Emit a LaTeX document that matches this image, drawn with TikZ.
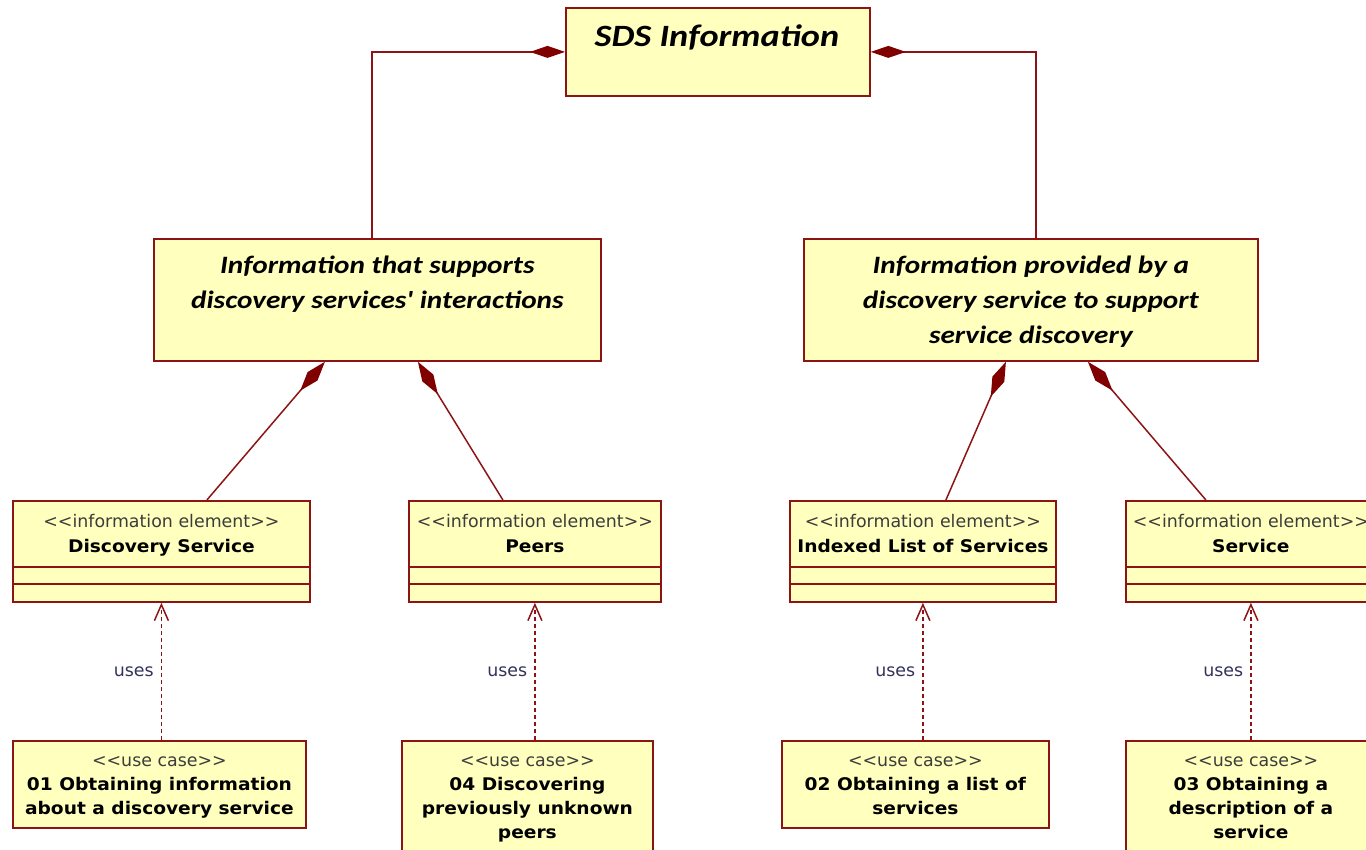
\documentclass[tikz,border=0pt]{standalone}
\usepackage{fontspec}
\newfontfamily\umlfont{DejaVu Sans}[BoldFeatures={FakeStretch=1.07}]
\newfontfamily\titlefont{Carlito}[FakeStretch=1.17]
\usetikzlibrary{arrows.meta,calc}
\definecolor{umlfill}{RGB}{255,255,190}
\definecolor{umlline}{RGB}{140,20,20}
\definecolor{umldia}{RGB}{128,0,0}
\definecolor{stereo}{RGB}{60,60,60}
\definecolor{usestext}{RGB}{50,50,90}
\begin{document}
\begin{tikzpicture}[x=1pt,y=-1pt,
  box/.style={draw=umlline, fill=umlfill, line width=1.8pt, inner sep=0pt, anchor=north west},
  iebox/.style={box, minimum height=101,
    path picture={\draw[umlline, line width=1.6pt]
      ([yshift=35]path picture bounding box.south west) -- ([yshift=35]path picture bounding box.south east)
      ([yshift=18]path picture bounding box.south west) -- ([yshift=18]path picture bounding box.south east);}},
  titletxt/.style={font=\titlefont\bfseries\itshape\fontsize{31}{38}\selectfont, inner sep=0pt, anchor=base},
  midtxt/.style={font=\titlefont\bfseries\itshape\fontsize{25}{35}\selectfont, inner sep=0pt, anchor=north, align=center},
  ietxt/.style={font=\umlfont\fontsize{17.4}{25}\selectfont, inner sep=0pt, anchor=north, align=center},
  uctxt/.style={font=\umlfont\fontsize{17.4}{24}\selectfont, inner sep=0pt, anchor=north, align=center},
  comp/.style={draw=umlline, line width=1.5pt, {Diamond[length=35pt,width=12pt,color=umldia,fill=umldia]}-},
  compd/.style={draw=umlline, line width=1.5pt, {Diamond[length=38pt,width=13pt,color=umldia,fill=umldia]}-},
  uses/.style={draw=umlline, line width=1.5pt, dash pattern=on 4pt off 3pt, -{Straight Barb[length=16pt,width=14pt]}},
  useslbl/.style={font=\umlfont\fontsize{17.4}{20}\selectfont, text=usestext, inner sep=0pt, anchor=east, xshift=-7pt}
]
\useasboundingbox (0,0) rectangle (1366,850);
\clip (0,0) rectangle (1366,850);
% top box
\node[box, minimum width=304, minimum height=88] (sds) at (565,7) {};
\node[titletxt] (sdst) at (717,47) {SDS Information};
% middle boxes
\node[box, minimum width=447, minimum height=122] (mid1) at (153,238) {};
\node[midtxt] (mid1t) at ([yshift=-10.5]mid1.north) {\strut Information that supports\\discovery services' interactions};
\node[box, minimum width=454, minimum height=122] (mid2) at (803,238) {};
\node[midtxt] (mid2t) at ([yshift=-10.5]mid2.north) {\strut Information provided by a\\discovery service to support\\service discovery};
% information elements
\node[iebox, minimum width=297] (ie1) at (12,500) {};
\node[iebox, minimum width=252] (ie2) at (408,500) {};
\node[iebox, minimum width=266] (ie3) at (789,500) {};
\node[iebox, minimum width=250] (ie4) at (1125,500) {};
\node[ietxt] (ie1t) at ([yshift=-9.5]ie1.north) {\strut{\color{stereo}<<information element>>}\\\textbf{Discovery Service}};
\node[ietxt] (ie2t) at ([yshift=-9.5]ie2.north) {\strut{\color{stereo}<<information element>>}\\\textbf{Peers}};
\node[ietxt] (ie3t) at ([yshift=-9.5]ie3.north) {\strut{\color{stereo}<<information element>>}\\\textbf{Indexed List of Services}};
\node[ietxt] (ie4t) at ([yshift=-9.5]ie4.north) {\strut{\color{stereo}<<information element>>}\\\textbf{Service}};
% use cases
\node[box, minimum width=293, minimum height=87] (uc1) at (12,740) {};
\node[box, minimum width=251, minimum height=120] (uc2) at (401,740) {};
\node[box, minimum width=267, minimum height=87] (uc3) at (781,740) {};
\node[box, minimum width=250, minimum height=120] (uc4) at (1125,740) {};
\node[uctxt] (uc1t) at ([yshift=-9.2]uc1.north) {\strut{\color{stereo}<<use case>>}\\\textbf{01 Obtaining information}\\\textbf{about a discovery service}};
\node[uctxt] (uc2t) at ([yshift=-9.2]uc2.north) {\strut{\color{stereo}<<use case>>}\\\textbf{04 Discovering}\\\textbf{previously unknown}\\\textbf{peers}};
\node[uctxt] (uc3t) at ([yshift=-9.2]uc3.north) {\strut{\color{stereo}<<use case>>}\\\textbf{02 Obtaining a list of}\\\textbf{services}};
\node[uctxt] (uc4t) at ([yshift=-9.2]uc4.north) {\strut{\color{stereo}<<use case>>}\\\textbf{03 Obtaining a}\\\textbf{description of a}\\\textbf{service}};
% composition connectors
\draw[comp] (sds.west) -| ([xshift=-5.5]mid1.north);
\draw[comp] (sds.east) -| ([xshift=5]mid2.north);
\draw[compd] ([xshift=-52.5]mid1.south) -- ([xshift=45.5]ie1.north);
\draw[compd] ([xshift=40.5]mid1.south) -- ([xshift=-32]ie2.north);
\draw[compd] ([xshift=-25]mid2.south) -- ([xshift=23]ie3.north);
\draw[compd] ([xshift=57]mid2.south) -- ([xshift=-45]ie4.north);
% uses dependencies
\draw[uses] (uc1.north -| ie1.south) -- node[useslbl] (u1) {uses} (ie1.south);
\draw[uses] (uc2.north -| ie2.south) -- node[useslbl] (u2) {uses} (ie2.south);
\draw[uses] (uc3.north -| ie3.south) -- node[useslbl] (u3) {uses} (ie3.south);
\draw[uses] (uc4.north -| ie4.south) -- node[useslbl] (u4) {uses} (ie4.south);
\end{tikzpicture}
\end{document}
